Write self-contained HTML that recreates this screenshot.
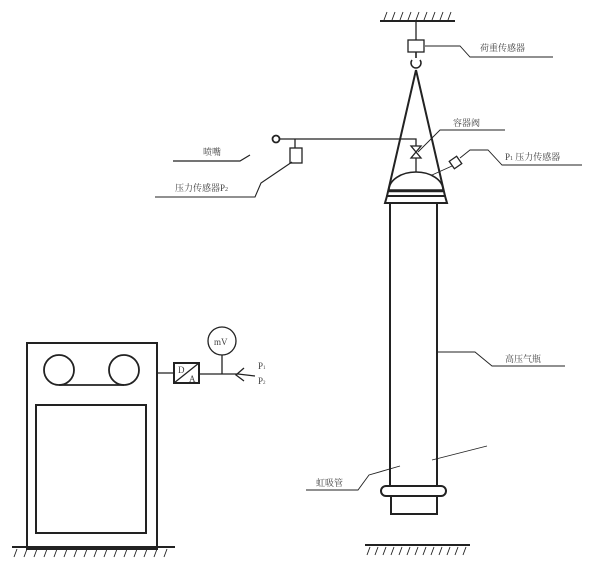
<!DOCTYPE html><html><head><style>body{margin:0;background:#fff}svg{display:block}text{font-family:"Liberation Serif","Noto Serif CJK SC",serif;fill:#444;stroke:none}</style></head><body>
<svg width="600" height="562" viewBox="0 0 600 562" stroke="#222" fill="none" stroke-width="1.3">
<line x1="380" y1="21" x2="455" y2="21" stroke-width="2"/>
<g stroke-width="0.9"><path d="M384 20l3-8M392 20l3-8M400 20l3-8M408 20l3-8M416 20l3-8M424 20l3-8M432 20l3-8M440 20l3-8M448 20l3-8"/></g>
<line x1="416" y1="21" x2="416" y2="40"/>
<rect x="408" y="40" width="16" height="12"/>
<path d="M425 46H460L470 57H553" stroke-width="0.9"/>
<text x="480" y="51" font-size="9">荷重传感器</text>
<path d="M416 52v6M412 60a5 5 0 1 0 8 0" stroke-width="1.6"/>
<path d="M416 70L387 196M416 70L445 196" stroke-width="2"/>
<path d="M387 196H445L447 203H385Z" stroke-width="2"/>
<path d="M389 190A27 18 0 0 1 443 190Z" stroke-width="1.6"/>
<line x1="389" y1="191" x2="443" y2="191" stroke-width="2.5"/>
<path d="M411 146L421 146L411 158L421 158Z"/>
<line x1="416" y1="158" x2="416" y2="172"/>
<path d="M280 139H416V146"/>
<circle cx="276" cy="139" r="3.5" stroke-width="1.8"/>
<line x1="295" y1="139" x2="295" y2="148"/>
<rect x="290" y="148" width="12" height="15"/>
<path d="M418 152L440 130H505" stroke-width="0.9"/>
<text x="453" y="126" font-size="9">容器阀</text>
<rect x="451" y="158" width="9" height="9" transform="rotate(-35 455.5 162.5)"/>
<path d="M432 175L452 166M460 158L470 150H488L502 165H582" stroke-width="0.9"/>
<text x="505" y="160" font-size="9">P<tspan font-size="6">1</tspan> 压力传感器</text>
<text x="203" y="155" font-size="9">喷嘴</text>
<path d="M173 161H240L250 155" stroke-width="1.2"/>
<text x="175" y="191" font-size="9">压力传感器P<tspan font-size="6">2</tspan></text>
<path d="M155 197H255L261 183L292 162" stroke-width="1.1"/>
<path d="M390 203V487M437 203V487" stroke-width="2"/>
<rect x="381" y="486" width="65" height="10" rx="5" stroke-width="2"/>
<path d="M391 496V514H437V496" stroke-width="2"/>
<line x1="365" y1="545" x2="470" y2="545" stroke-width="2"/>
<g stroke-width="0.9"><path d="M370 547l-3 8M378 547l-3 8M386 547l-3 8M394 547l-3 8M402 547l-3 8M410 547l-3 8M418 547l-3 8M426 547l-3 8M434 547l-3 8M442 547l-3 8M450 547l-3 8M458 547l-3 8M466 547l-3 8"/></g>
<path d="M437 352H475L492 366H565" stroke-width="0.9"/>
<text x="505" y="362" font-size="9">高压气瓶</text>
<path d="M306 490H358L369 475L400 466" stroke-width="0.9"/>
<text x="316" y="486" font-size="9">虹吸管</text>
<path d="M432 460L487 446" stroke-width="0.9"/>
<rect x="27" y="343" width="130" height="206" stroke-width="2"/>
<circle cx="59" cy="370" r="15" stroke-width="1.8"/>
<circle cx="124" cy="370" r="15" stroke-width="1.8"/>
<line x1="59" y1="385" x2="124" y2="385" stroke-width="1.8"/>
<rect x="36" y="405" width="110" height="128" stroke-width="2"/>
<line x1="12" y1="547" x2="175" y2="547" stroke-width="2"/>
<g stroke-width="0.9"><path d="M17 549l-3 8M27 549l-3 8M37 549l-3 8M47 549l-3 8M57 549l-3 8M67 549l-3 8M77 549l-3 8M87 549l-3 8M97 549l-3 8M107 549l-3 8M117 549l-3 8M127 549l-3 8M137 549l-3 8M147 549l-3 8M157 549l-3 8M167 549l-3 8"/></g>
<path d="M157 373H174M199 374H238L255 376"/>
<rect x="174" y="363" width="25" height="20" stroke-width="2"/>
<line x1="174" y1="383" x2="199" y2="363"/>
<text x="178" y="373" font-size="9">D</text><text x="189" y="382" font-size="9">A</text>
<circle cx="222" cy="341" r="14"/>
<text x="214" y="345" font-size="9">mV</text>
<line x1="222" y1="355" x2="222" y2="374"/>
<path d="M244 368L236 375L244 381"/>
<text x="258" y="369" font-size="9">P<tspan font-size="5">1</tspan></text>
<text x="258" y="384" font-size="9">P<tspan font-size="5">2</tspan></text>
</svg></body></html>
